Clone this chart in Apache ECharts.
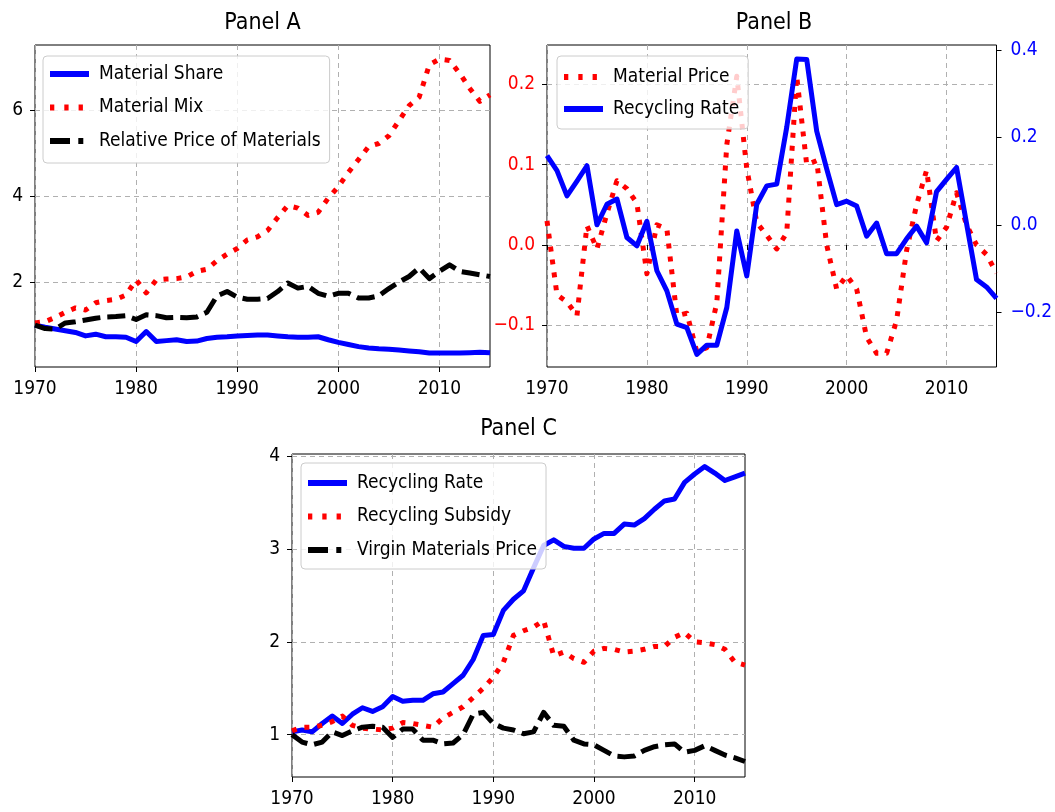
<!DOCTYPE html>
<html>
<head>
<meta charset="utf-8">
<script src="https://cdn.jsdelivr.net/npm/echarts@6/dist/echarts.min.js"></script>
<style>
  html, body { margin: 0; padding: 0; background: #ffffff; }
  #chart { width: 1055px; height: 812px; }
</style>
</head>
<body>
<div id="chart"></div>
<script>
// Years on the horizontal axis of all three panels
const years = [1970, 1971, 1972, 1973, 1974, 1975, 1976, 1977, 1978, 1979,
               1980, 1981, 1982, 1983, 1984, 1985, 1986, 1987, 1988, 1989,
               1990, 1991, 1992, 1993, 1994, 1995, 1996, 1997, 1998, 1999,
               2000, 2001, 2002, 2003, 2004, 2005, 2006, 2007, 2008, 2009,
               2010, 2011, 2012, 2013, 2014, 2015];
const yearTicks = [1970, 1980, 1990, 2000, 2010];

// Panel A
const materialShare = [1.00, 0.95, 0.91, 0.87, 0.83, 0.75, 0.79, 0.73, 0.73, 0.72,
                       0.62, 0.85, 0.62, 0.64, 0.66, 0.62, 0.63, 0.69, 0.72, 0.73,
                       0.75, 0.76, 0.77, 0.77, 0.75, 0.73, 0.72, 0.72, 0.73, 0.66,
                       0.60, 0.55, 0.50, 0.47, 0.45, 0.44, 0.42, 0.40, 0.38, 0.35,
                       0.35, 0.35, 0.35, 0.36, 0.37, 0.36];
const materialMix = [1.05, 1.08, 1.18, 1.30, 1.40, 1.35, 1.52, 1.57, 1.60, 1.70,
                     2.05, 1.75, 2.05, 2.07, 2.08, 2.12, 2.25, 2.30, 2.50, 2.65,
                     2.78, 2.98, 3.05, 3.20, 3.50, 3.78, 3.72, 3.55, 3.62, 3.95,
                     4.22, 4.55, 4.85, 5.15, 5.22, 5.40, 5.75, 6.10, 6.30, 7.05,
                     7.18, 7.15, 6.85, 6.50, 6.20, 6.35];
const relativePrice = [1.00, 0.92, 0.91, 1.05, 1.08, 1.12, 1.16, 1.19, 1.20, 1.22,
                       1.13, 1.24, 1.22, 1.17, 1.18, 1.17, 1.19, 1.30, 1.68, 1.78,
                       1.65, 1.60, 1.60, 1.62, 1.78, 1.98, 1.86, 1.90, 1.74, 1.67,
                       1.74, 1.74, 1.63, 1.63, 1.68, 1.85, 2.00, 2.13, 2.33, 2.08,
                       2.25, 2.40, 2.25, 2.21, 2.17, 2.13];
const ticksA = [2, 4, 6];

// Panel B (material price on the left scale, recycling rate on the right scale)
const materialPrice = [0.030, -0.062, -0.071, -0.088, 0.024, -0.005, 0.039, 0.080, 0.070, 0.052,
                       -0.036, 0.025, 0.020, -0.088, -0.085, -0.133, -0.128, -0.072, 0.125, 0.210,
                       0.095, 0.028, 0.012, -0.005, 0.015, 0.210, 0.100, 0.105, 0.000, -0.055,
                       -0.038, -0.055, -0.115, -0.135, -0.135, -0.094, -0.007, 0.050, 0.093, 0.005,
                       0.022, 0.065, 0.025, 0.000, -0.012, -0.035];
const recyclingRateB = [0.158, 0.124, 0.066, 0.100, 0.135, 0.000, 0.047, 0.059, -0.029, -0.048,
                        0.008, -0.105, -0.151, -0.227, -0.235, -0.296, -0.275, -0.275, -0.189, -0.014,
                        -0.117, 0.047, 0.089, 0.093, 0.223, 0.379, 0.378, 0.214, 0.128, 0.046,
                        0.054, 0.043, -0.026, 0.004, -0.066, -0.066, -0.032, -0.003, -0.041, 0.076,
                        0.104, 0.131, 0.003, -0.125, -0.142, -0.168];
const ticksBLeft = [-0.1, 0.0, 0.1, 0.2];
const ticksBRight = [-0.2, 0.0, 0.2, 0.4];

// Panel C
const recyclingRateC = [1.03, 1.05, 1.03, 1.12, 1.20, 1.12, 1.22, 1.29, 1.25, 1.30,
                        1.41, 1.36, 1.37, 1.37, 1.44, 1.46, 1.55, 1.64, 1.81, 2.07,
                        2.08, 2.34, 2.46, 2.55, 2.80, 3.04, 3.10, 3.03, 3.01, 3.01,
                        3.11, 3.17, 3.17, 3.27, 3.26, 3.33, 3.43, 3.52, 3.54, 3.72,
                        3.81, 3.89, 3.82, 3.74, 3.78, 3.82];
const recyclingSubsidy = [1.04, 1.08, 1.08, 1.10, 1.14, 1.20, 1.10, 1.07, 1.06, 1.05,
                          1.07, 1.13, 1.12, 1.10, 1.08, 1.18, 1.24, 1.30, 1.40, 1.50,
                          1.62, 1.78, 2.07, 2.12, 2.16, 2.23, 1.85, 1.89, 1.82, 1.78,
                          1.90, 1.93, 1.92, 1.89, 1.90, 1.92, 1.95, 1.95, 2.05, 2.10,
                          2.00, 1.99, 1.97, 1.92, 1.78, 1.75];
const virginPrice = [1.00, 0.92, 0.89, 0.92, 1.03, 0.99, 1.04, 1.08, 1.09, 1.08,
                     0.97, 1.06, 1.06, 0.94, 0.94, 0.90, 0.91, 1.00, 1.22, 1.24,
                     1.12, 1.07, 1.05, 1.01, 1.03, 1.24, 1.10, 1.09, 0.94, 0.90,
                     0.89, 0.83, 0.77, 0.76, 0.77, 0.83, 0.87, 0.89, 0.90, 0.81,
                     0.83, 0.88, 0.83, 0.78, 0.75, 0.71];
const ticksC = [1, 2, 3, 4];

const FONT = "'DejaVu Sans Condensed', 'DejaVu Sans', sans-serif";
const BLUE = '#0000ff', RED = '#ff0000', BLACK = '#000000';
const LW = 5;
const SOLID = 'solid', DOTTED = [5, 8], DASHED = [18, 7];

// Legend handle patterns: three dots, and a long dash followed by a short one
const legendDots = { type: [4.3, 10], width: 6 };
const legendDash = { type: [20, 8.3, 5, 50], width: 6 };
const legendSolid = { width: 6 };

const pairs = vals => years.map((y, i) => [y, vals[i]]);
const fmt1 = v => v.toFixed(1).replace('-', '\u2212');

function lineSeries(name, vals, color, dash, xi, yi) {
  return {
    type: 'line', name, data: pairs(vals), xAxisIndex: xi, yAxisIndex: yi,
    symbol: 'none', showSymbol: false, clip: true,
    lineStyle: { color, width: LW, type: dash, join: 'round', cap: 'butt' },
    itemStyle: { color },
    emphasis: { disabled: true }
  };
}

function xAxis(gridIndex) {
  return {
    type: 'value', gridIndex, min: 1970, max: 2015,
    axisLine: { show: false },
    axisTick: { show: true, length: 5, customValues: yearTicks, lineStyle: { color: '#000', width: 1 } },
    axisLabel: { customValues: yearTicks, margin: 13, fontFamily: FONT, fontSize: 19, color: '#000',
                 formatter: v => String(v) },
    splitLine: { show: true, lineStyle: { color: '#b0b0b0', width: 1, type: [5, 4] } }
  };
}

function yAxis(gridIndex, min, max, ticks, fmt, color, position, grid, margin) {
  return {
    type: 'value', gridIndex, min, max, position,
    axisLine: { show: false },
    axisTick: { show: true, length: 5, customValues: ticks, lineStyle: { color: '#000', width: 1 } },
    axisLabel: { customValues: ticks, margin, fontFamily: FONT, fontSize: 19, color, formatter: fmt },
    splitLine: { show: grid, lineStyle: { color: '#b0b0b0', width: 1, type: [5, 4] } }
  };
}

function legendBox(items, left, top, padding, itemGap) {
  return {
    data: items.map(([name, lineStyle]) => ({ name, lineStyle })),
    orient: 'vertical', left, top, padding, itemGap,
    itemWidth: 39, itemHeight: 14, selectedMode: false,
    backgroundColor: 'rgba(255,255,255,0.8)', borderColor: '#cccccc', borderWidth: 1, borderRadius: 4,
    itemStyle: { color: 'rgba(0,0,0,0)', borderWidth: 0, borderColor: 'rgba(0,0,0,0)' },
    lineStyle: { width: 6 },
    textStyle: { fontFamily: FONT, fontSize: 19, color: '#000', lineHeight: 22, padding: [0, 0, 0, 5] }
  };
}

function title(text, x, top) {
  return { text, left: x, top, textAlign: 'center', padding: 0,
           textStyle: { fontFamily: FONT, fontSize: 23, fontWeight: 'normal', color: '#000' } };
}

const chart = echarts.init(document.getElementById('chart'), null, { renderer: 'canvas' });
chart.setOption({
  animation: false,
  backgroundColor: '#ffffff',
  title: [
    title('Panel A', 262.5, 12),
    title('Panel B', 774, 12),
    title('Panel C', 518.5, 418)
  ],
  grid: [
    { left: 35, top: 45, width: 455, height: 322, show: true, borderColor: '#000', borderWidth: 1, backgroundColor: 'transparent' },
    { left: 547, top: 45, width: 454, height: 322, show: true, borderColor: '#000', borderWidth: 1, backgroundColor: 'transparent' },
    { left: 292, top: 454, width: 453, height: 323, show: true, borderColor: '#000', borderWidth: 1, backgroundColor: 'transparent' }
  ],
  xAxis: [xAxis(0), xAxis(1), xAxis(2)],
  yAxis: [
    yAxis(0, 0.027, 7.509, ticksA, v => String(v), '#000', 'left', true, 12),
    yAxis(1, -0.152, 0.249, ticksBLeft, fmt1, RED, 'left', true, 12),
    yAxis(1, -0.325, 0.411, ticksBRight, fmt1, BLUE, 'right', false, 14),
    yAxis(2, 0.543, 4.026, ticksC, v => String(v), '#000', 'left', true, 12)
  ],
  legend: [
    legendBox([['Material Share', legendSolid], ['Material Mix', legendDots],
               ['Relative Price of Materials', legendDash]], 43, 56, [7, 9, 11, 4], 11.5),
    legendBox([['Material Price', legendDots], ['Recycling Rate', legendSolid]],
              557, 56, [10, 9, 9, 4], 10),
    legendBox([['Recycling Rate', legendSolid], ['Recycling Subsidy', legendDots],
               ['Virgin Materials Price', legendDash]], 301, 463, [9, 9, 8, 4], 11.5)
  ],
  series: [
    lineSeries('Material Share', materialShare, BLUE, SOLID, 0, 0),
    lineSeries('Material Mix', materialMix, RED, DOTTED, 0, 0),
    lineSeries('Relative Price of Materials', relativePrice, BLACK, DASHED, 0, 0),
    lineSeries('Material Price', materialPrice, RED, DOTTED, 1, 1),
    lineSeries('Recycling Rate', recyclingRateB, BLUE, SOLID, 1, 2),
    lineSeries('Recycling Rate', recyclingRateC, BLUE, SOLID, 2, 3),
    lineSeries('Recycling Subsidy', recyclingSubsidy, RED, DOTTED, 2, 3),
    lineSeries('Virgin Materials Price', virginPrice, BLACK, DASHED, 2, 3)
  ]
});
</script>
</body>
</html>
